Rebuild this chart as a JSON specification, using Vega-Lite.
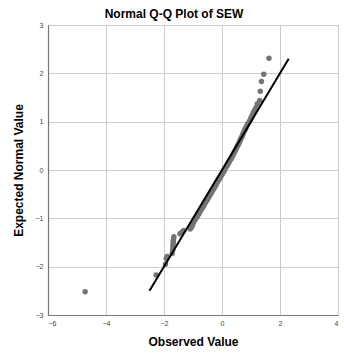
{
  "$schema": "https://vega.github.io/schema/vega-lite/v6.json",
  "autosize": "none",
  "width": 290,
  "height": 290,
  "padding": {"left": 48, "top": 25, "right": 6, "bottom": 38},
  "background": "white",
  "title": {"text": "Normal Q-Q Plot of SEW", "font": "Liberation Sans", "fontSize": 12, "fontWeight": "bold", "color": "#000", "dx": -19, "offset": 5, "dy": 5},
  "config": {
    "view": {"stroke": null},
    "axis": {"labelFont": "Liberation Sans", "labelFontSize": 7, "labelColor": "#444", "titleFont": "Liberation Sans", "titleFontSize": 12, "titleFontWeight": "bold", "titleColor": "#000", "gridColor": "#cccccc", "gridWidth": 1, "domainColor": "#777", "domainWidth": 1.2, "ticks": false}
  },
  "datasets": {
    "points": [
      {"observed": -4.72, "expected": -2.52},
      {"observed": -2.27, "expected": -2.17},
      {"observed": -1.95, "expected": -1.95},
      {"observed": -1.92, "expected": -1.83},
      {"observed": -1.89, "expected": -1.79},
      {"observed": -1.72, "expected": -1.73},
      {"observed": -1.70, "expected": -1.66},
      {"observed": -1.69, "expected": -1.60},
      {"observed": -1.69, "expected": -1.55},
      {"observed": -1.68, "expected": -1.50},
      {"observed": -1.68, "expected": -1.46},
      {"observed": -1.67, "expected": -1.42},
      {"observed": -1.66, "expected": -1.38},
      {"observed": -1.45, "expected": -1.32},
      {"observed": -1.38, "expected": -1.28},
      {"observed": -1.32, "expected": -1.25},
      {"observed": -1.10, "expected": -1.22},
      {"observed": -1.06, "expected": -1.19},
      {"observed": -1.02, "expected": -1.15},
      {"observed": -1.02, "expected": -1.12},
      {"observed": -0.99, "expected": -1.09},
      {"observed": -0.96, "expected": -1.06},
      {"observed": -0.93, "expected": -1.03},
      {"observed": -0.90, "expected": -1.00},
      {"observed": -0.87, "expected": -0.97},
      {"observed": -0.84, "expected": -0.94},
      {"observed": -0.80, "expected": -0.91},
      {"observed": -0.78, "expected": -0.88},
      {"observed": -0.75, "expected": -0.85},
      {"observed": -0.72, "expected": -0.82},
      {"observed": -0.69, "expected": -0.79},
      {"observed": -0.65, "expected": -0.76},
      {"observed": -0.62, "expected": -0.73},
      {"observed": -0.60, "expected": -0.70},
      {"observed": -0.57, "expected": -0.67},
      {"observed": -0.54, "expected": -0.64},
      {"observed": -0.50, "expected": -0.61},
      {"observed": -0.48, "expected": -0.58},
      {"observed": -0.45, "expected": -0.55},
      {"observed": -0.42, "expected": -0.52},
      {"observed": -0.39, "expected": -0.49},
      {"observed": -0.36, "expected": -0.46},
      {"observed": -0.33, "expected": -0.43},
      {"observed": -0.30, "expected": -0.40},
      {"observed": -0.27, "expected": -0.37},
      {"observed": -0.24, "expected": -0.34},
      {"observed": -0.21, "expected": -0.31},
      {"observed": -0.19, "expected": -0.28},
      {"observed": -0.16, "expected": -0.25},
      {"observed": -0.13, "expected": -0.22},
      {"observed": -0.10, "expected": -0.19},
      {"observed": -0.07, "expected": -0.16},
      {"observed": -0.04, "expected": -0.13},
      {"observed": -0.01, "expected": -0.10},
      {"observed": 0.02, "expected": -0.07},
      {"observed": 0.05, "expected": -0.04},
      {"observed": 0.08, "expected": -0.01},
      {"observed": 0.10, "expected": 0.02},
      {"observed": 0.13, "expected": 0.05},
      {"observed": 0.16, "expected": 0.08},
      {"observed": 0.19, "expected": 0.11},
      {"observed": 0.22, "expected": 0.14},
      {"observed": 0.25, "expected": 0.17},
      {"observed": 0.28, "expected": 0.20},
      {"observed": 0.31, "expected": 0.23},
      {"observed": 0.33, "expected": 0.26},
      {"observed": 0.36, "expected": 0.29},
      {"observed": 0.39, "expected": 0.32},
      {"observed": 0.41, "expected": 0.35},
      {"observed": 0.44, "expected": 0.38},
      {"observed": 0.46, "expected": 0.41},
      {"observed": 0.49, "expected": 0.44},
      {"observed": 0.51, "expected": 0.47},
      {"observed": 0.54, "expected": 0.50},
      {"observed": 0.56, "expected": 0.53},
      {"observed": 0.59, "expected": 0.56},
      {"observed": 0.61, "expected": 0.59},
      {"observed": 0.63, "expected": 0.62},
      {"observed": 0.65, "expected": 0.65},
      {"observed": 0.68, "expected": 0.68},
      {"observed": 0.70, "expected": 0.71},
      {"observed": 0.72, "expected": 0.74},
      {"observed": 0.74, "expected": 0.77},
      {"observed": 0.77, "expected": 0.80},
      {"observed": 0.79, "expected": 0.83},
      {"observed": 0.81, "expected": 0.86},
      {"observed": 0.84, "expected": 0.89},
      {"observed": 0.86, "expected": 0.92},
      {"observed": 0.89, "expected": 0.95},
      {"observed": 0.92, "expected": 0.98},
      {"observed": 0.95, "expected": 1.01},
      {"observed": 0.98, "expected": 1.05},
      {"observed": 1.01, "expected": 1.09},
      {"observed": 1.04, "expected": 1.13},
      {"observed": 1.07, "expected": 1.17},
      {"observed": 1.10, "expected": 1.21},
      {"observed": 1.14, "expected": 1.25},
      {"observed": 1.18, "expected": 1.30},
      {"observed": 1.22, "expected": 1.37},
      {"observed": 1.30, "expected": 1.44},
      {"observed": 1.32, "expected": 1.63},
      {"observed": 1.36, "expected": 1.83},
      {"observed": 1.44, "expected": 1.98},
      {"observed": 1.62, "expected": 2.31}
    ],
    "fit": [
      {"observed": -2.5, "expected": -2.5},
      {"observed": 2.3, "expected": 2.3}
    ]
  },
  "layer": [
    {
      "data": {"name": "points"},
      "mark": {"type": "point", "filled": true, "size": 30, "color": "#747474", "opacity": 1},
      "encoding": {
        "x": {"field": "observed", "type": "quantitative", "scale": {"domain": [-6, 4], "nice": false}, "axis": {"title": "Observed Value", "values": [-6, -4, -2, 0, 2, 4], "titlePadding": 10, "labelPadding": 4}},
        "y": {"field": "expected", "type": "quantitative", "scale": {"domain": [-3, 3], "nice": false}, "axis": {"title": "Expected Normal Value", "values": [-3, -2, -1, 0, 1, 2, 3], "titlePadding": 10, "labelPadding": 5}}
      }
    },
    {
      "data": {"name": "fit"},
      "mark": {"type": "line", "color": "#000", "strokeWidth": 2},
      "encoding": {
        "x": {"field": "observed", "type": "quantitative"},
        "y": {"field": "expected", "type": "quantitative"}
      }
    }
  ]
}
